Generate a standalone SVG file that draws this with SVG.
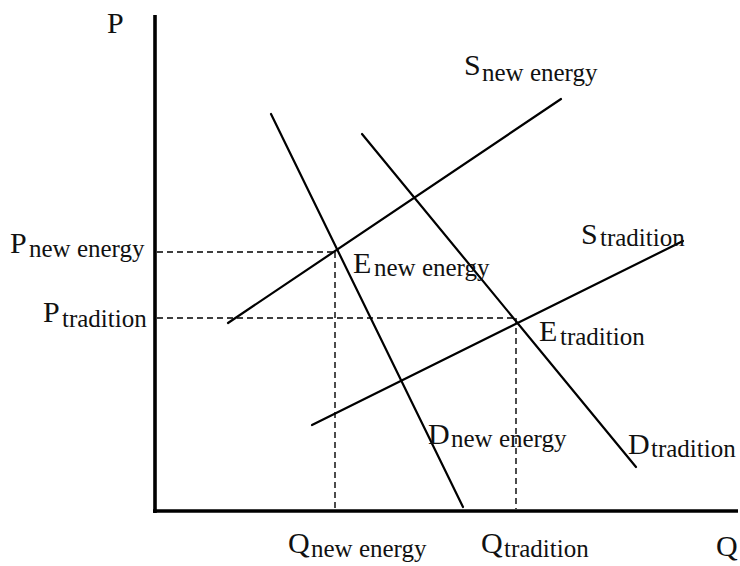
<svg xmlns="http://www.w3.org/2000/svg" width="740" height="566" viewBox="0 0 740 566">
<style>
.axis{stroke:#000;stroke-width:3.6;fill:none}
.curve{stroke:#000;stroke-width:2.2;fill:none;stroke-linecap:round}
.guide{stroke:#000;stroke-width:1.4;stroke-dasharray:6 4;fill:none}
text{font-family:"Liberation Serif","Times New Roman",serif;fill:#111}
.m{font-size:30px}
.s{font-size:25px}
</style>
<rect width="740" height="566" fill="#fff"/>
<g id="axes">
<line class="axis" x1="155" y1="15" x2="155" y2="513"/>
<line class="axis" x1="153" y1="511" x2="738" y2="511"/>
<text class="m" x="107" y="33">P</text>
<text class="m" x="716" y="556">Q</text>
</g>
<g id="guides">
<line class="guide" x1="157" y1="252" x2="335" y2="252"/>
<line class="guide" x1="335" y1="252" x2="335" y2="509"/>
<line class="guide" x1="157" y1="318" x2="516" y2="318"/>
<line class="guide" x1="516" y1="318" x2="516" y2="509"/>
</g>
<g id="connectors">
<line id="s-new" class="curve" x1="228" y1="323" x2="561" y2="99"/>
<line id="s-trad" class="curve" x1="312" y1="425" x2="683" y2="241"/>
<line id="d-new" class="curve" x1="271" y1="114" x2="463" y2="507"/>
<line id="d-trad" class="curve" x1="362" y1="134" x2="636" y2="467"/>
</g>
<g id="label-p-new"><text class="m" x="10" y="253">P</text><text class="s" x="29" y="257">new energy</text></g>
<g id="label-p-trad"><text class="m" x="43" y="322">P</text><text class="s" x="62" y="327">tradition</text></g>
<g id="label-s-new"><text class="m" x="464" y="75">S</text><text class="s" x="482" y="81">new energy</text></g>
<g id="label-s-trad"><text class="m" x="581" y="244">S</text><text class="s" x="600" y="246">tradition</text></g>
<g id="label-e-new"><text class="m" x="353" y="273">E</text><text class="s" x="374" y="276">new energy</text></g>
<g id="label-e-trad"><text class="m" x="539" y="341">E</text><text class="s" x="560" y="345">tradition</text></g>
<g id="label-d-new"><text class="m" x="428" y="444">D</text><text class="s" x="451" y="447">new energy</text></g>
<g id="label-d-trad"><text class="m" x="628" y="454">D</text><text class="s" x="651" y="457">tradition</text></g>
<g id="label-q-new"><text class="m" x="288" y="553">Q</text><text class="s" x="311" y="557">new energy</text></g>
<g id="label-q-trad"><text class="m" x="481" y="553">Q</text><text class="s" x="504" y="557">tradition</text></g>
</svg>
